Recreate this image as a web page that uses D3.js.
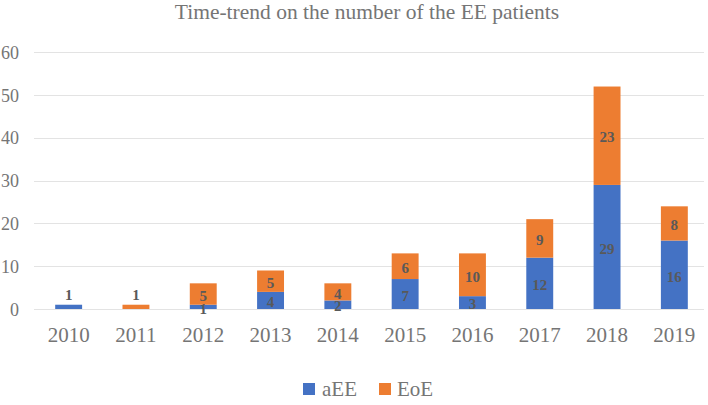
<!DOCTYPE html>
<html>
<head>
<meta charset="utf-8">
<script src="https://cdn.jsdelivr.net/npm/d3@7"></script>
<style>
  html, body { margin: 0; padding: 0; background: #fff; }
  svg { display: block; }
</style>
</head>
<body>
<svg id="chart" width="708" height="405"></svg>
<script>
const years = ["2010","2011","2012","2013","2014","2015","2016","2017","2018","2019"];
const aEE = [1, 0, 1, 4, 2, 7, 3, 12, 29, 16];
const EoE = [0, 1, 5, 5, 4, 6, 10, 9, 23, 8];
const seriesNames = ["aEE", "EoE"];
const yTicks = [0, 10, 20, 30, 40, 50, 60];
const title = "Time-trend on the number of the EE patients";

const colors = { aEE: "#4472C4", EoE: "#ED7D31" };
const font = "'Liberation Serif', 'Times New Roman', serif";
const textColor = "#595959";

const svg = d3.select("#chart");

const x = d3.scaleBand().domain(years).range([35, 708]).paddingInner(0.6).paddingOuter(0.3);
const y = d3.scaleLinear().domain([0, 60]).range([309, 52.3]);

const rows = years.map((yr, i) => ({ year: yr, aEE: aEE[i], EoE: EoE[i] }));
const stacked = d3.stack().keys(seriesNames)(rows);

// Title
svg.append("text")
  .attr("x", 367).attr("y", 19)
  .attr("text-anchor", "middle")
  .attr("font-family", font).attr("font-size", 21.5)
  .attr("fill", "#757575")
  .text(title);

// Gridlines
svg.append("g").selectAll("line").data(yTicks).join("line")
  .attr("x1", 34).attr("x2", 704)
  .attr("y1", d => Math.round(y(d)) + 0.5).attr("y2", d => Math.round(y(d)) + 0.5)
  .attr("stroke", "#e3e3e3").attr("stroke-width", 1);

// Y axis labels
const yAxis = d3.axisLeft(y).tickValues(yTicks).tickSize(0).tickPadding(0);
const gy = svg.append("g").attr("transform", "translate(19,0)").call(yAxis);
gy.select(".domain").remove();
gy.selectAll("text")
  .attr("font-family", font).attr("font-size", 18).attr("fill", "#757575")
  .attr("dy", "0.34em");

// X axis labels
const xAxis = d3.axisBottom(x).tickSize(0).tickPadding(0);
const gx = svg.append("g").attr("transform", "translate(0,327)").call(xAxis);
gx.select(".domain").remove();
gx.selectAll("text")
  .attr("font-family", font).attr("font-size", 21).attr("fill", "#757575")
  .attr("dy", "0.71em");

// Bars
const layers = svg.append("g").selectAll("g").data(stacked).join("g")
  .attr("fill", d => colors[d.key]);
layers.selectAll("rect").data(d => d.map(v => ({ key: d.key, v }))).join("rect")
  .attr("x", d => x(d.v.data.year))
  .attr("width", x.bandwidth())
  .attr("y", d => y(d.v[1]))
  .attr("height", d => y(d.v[0]) - y(d.v[1]));

// Labels
const labels = [];
stacked.forEach(layer => {
  layer.forEach(v => {
    const val = v[1] - v[0];
    if (val <= 0) return;
    const total = v.data.aEE + v.data.EoE;
    const alone = val === total;
    const cy = alone && val < 3 ? y(v[1]) - 10 : (y(v[0]) + y(v[1])) / 2 + 1.5;
    labels.push({ x: x(v.data.year) + x.bandwidth() / 2, y: cy, t: val });
  });
});
svg.append("g").selectAll("text").data(labels).join("text")
  .attr("x", d => d.x).attr("y", d => d.y)
  .attr("dy", "0.35em")
  .attr("text-anchor", "middle")
  .attr("font-family", font).attr("font-size", 15).attr("font-weight", "bold")
  .attr("fill", textColor)
  .text(d => d.t);

// Legend
const legend = svg.append("g");
const legItems = [
  { name: "aEE", sx: 303, tx: 322 },
  { name: "EoE", sx: 379, tx: 397 }
];
legItems.forEach(it => {
  legend.append("rect").attr("x", it.sx).attr("y", 383).attr("width", 12).attr("height", 12)
    .attr("fill", colors[it.name]);
  legend.append("text").attr("x", it.tx).attr("y", 396)
    .attr("font-family", font).attr("font-size", 21).attr("fill", "#757575")
    .text(it.name);
});
</script>
</body>
</html>
